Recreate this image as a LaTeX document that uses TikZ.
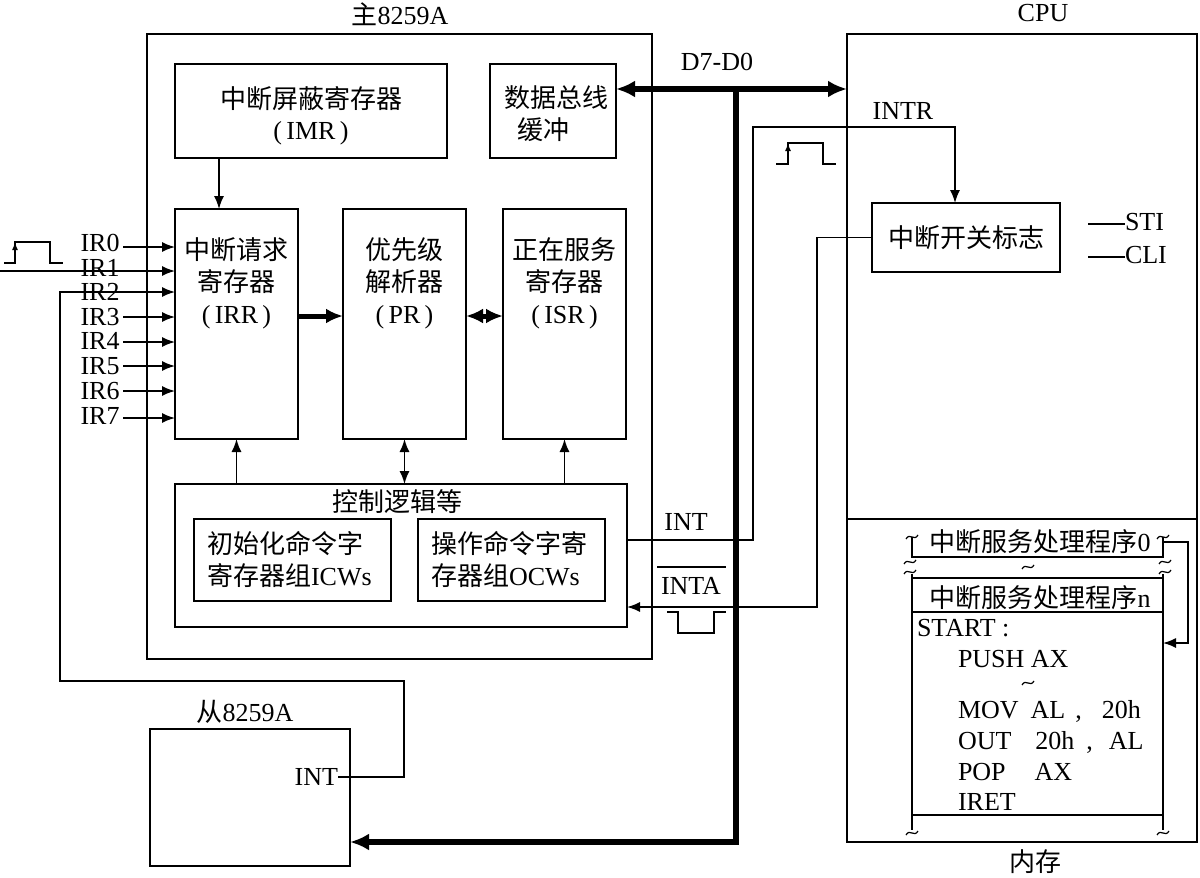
\documentclass[tikz,border=0pt]{standalone}
\usepackage{fontspec}
\setmainfont{Liberation Serif}
\newfontfamily\cjk{Noto Sans CJK SC}
\usetikzlibrary{arrows.meta}
\newcommand{\zh}[1]{{\cjk #1}}
\newcommand\wig[2]{\draw[line width=1.2pt] ({#1-6},{#2+2}) .. controls ({#1-2},{#2-5}) and ({#1+2},{#2+5}) .. ({#1+6},{#2-2});}
\begin{document}
\begin{tikzpicture}[x=1pt,y=-1pt,
  every node/.style={font=\fontsize{26}{30}\selectfont, inner sep=0pt, outer sep=0pt},
  blk/.style 2 args={draw, line width=1.6pt, minimum width=#1pt, minimum height=#2pt},
  ln/.style={line width=1.5pt},
  arr/.style={ln, -{Latex[length=13pt,width=10pt]}},
  darr/.style={ln, {Latex[length=13pt,width=10pt]}-{Latex[length=13pt,width=10pt]}},
  sarr/.style={ln, -{Latex[length=8pt,width=6pt]}},
  thk/.style={line width=5pt, -{Latex[length=17pt,width=15pt]}},
  dthk/.style={line width=5pt, {Latex[length=17pt,width=15pt]}-{Latex[length=17pt,width=15pt]}},
  bus/.style={line width=6pt, line join=miter},
  busarr/.style={bus, -{Latex[length=19pt,width=17pt]}},
  dbusarr/.style={bus, {Latex[length=19pt,width=17pt]}-{Latex[length=19pt,width=17pt]}}
]
\path[use as bounding box] (0,0) rectangle (1200,878);

% ---- boxes
\node[blk={505}{625}] (master) at (399.5,346.5) {};
\node[blk={350}{808}] (cpu) at (1022,438) {};
\node[blk={272}{94}] (imr) at (311,111) {};
\node[blk={126}{94}] (dbb) at (553,111) {};
\node[blk={123}{230}] (irr) at (236.5,324) {};
\node[blk={123}{230}] (pr) at (404.5,324) {};
\node[blk={123}{230}] (isr) at (564.5,324) {};
\node[blk={452}{143}] (ctl) at (401,555.5) {};
\node[blk={197}{82}] (icw) at (292.5,560) {};
\node[blk={187}{82}] (ocw) at (511.5,560) {};
\node[blk={188}{69}] (flag) at (966,237.5) {};
\node[blk={200}{137}] (slave) at (250,797.5) {};
\draw[line width=1.6pt] (cpu.west |- 0,519) -- (cpu.east |- 0,519);

% ---- titles
\node (tmaster) at (400,14) {\zh{主}8259A};
\node (tcpu) at (1043,13) {CPU};
\node (tslave) at (245,712) {\zh{从}8259A};
\node (tmem) at (1035,862) {\zh{内存}};

% ---- box texts
\node at (311,99) {\zh{中断屏蔽寄存器}};
\node at (311,133) {(\,IMR\,)};
\node[anchor=west] at (504,98) {\zh{数据总线}};
\node[anchor=west] at (517,130) {\zh{缓冲}};
\node at (236.5,250) {\zh{中断请求}};
\node at (236.5,282) {\zh{寄存器}};
\node at (236.5,317) {(\,IRR\,)};
\node at (404.5,250) {\zh{优先级}};
\node at (404.5,282) {\zh{解析器}};
\node at (404.5,317) {(\,PR\,)};
\node at (564.5,250) {\zh{正在服务}};
\node at (564.5,282) {\zh{寄存器}};
\node at (564.5,317) {(\,ISR\,)};
\node at (397,502) {\zh{控制逻辑等}};
\node[anchor=west] at (207,544) {\zh{初始化命令字}};
\node[anchor=west] at (207,576) {\zh{寄存器组}ICWs};
\node[anchor=west] at (431,544) {\zh{操作命令字寄}};
\node[anchor=west] at (431,576) {\zh{存器组}OCWs};
\node at (966,238) {\zh{中断开关标志}};
\node[anchor=east] (sint) at (338,777) {INT};

% ---- STI / CLI
\node[anchor=west] (sti) at (1125,222) {STI};
\node[anchor=west] (cli) at (1125,255) {CLI};
\draw[ln] (1088,224) -- (sti.west |- 0,224);
\draw[ln] (1088,257) -- (cli.west |- 0,257);

% ---- internal connectors
\coordinate (k1) at (219,0);
\draw[arr] (k1 |- imr.south) -- (k1 |- irr.north);
\coordinate (k2) at (0,316);
\draw[thk] (irr.east |- k2) -- (pr.west |- k2);
\draw[dthk] (pr.east |- k2) -- (isr.west |- k2);
\draw[arr] (ctl.north -| irr.south) -- (irr.south);
\draw[darr] (ctl.north -| pr.south) -- (pr.south);
\draw[arr] (ctl.north -| isr.south) -- (isr.south);

% ---- IR inputs
\foreach \i/\ly/\ay in {0/243/247,3/317/317,4/341/342,5/366/366,6/391/391,7/416/418}{
  \node (ir\i) at (100,\ly) {IR\i};
  \coordinate (ia\i) at (123,\ay);
  \draw[arr] (ia\i) -- (irr.west |- ia\i);
}
\node (ir1) at (100,268) {IR1};
\node (ir2) at (100,292) {IR2};
\coordinate (in1) at (0,271);
\draw[arr] (in1) -- (irr.west |- in1);
% pulse at IR0
\draw[ln] (4,263) -- (15,263) -- (15,242) -- (50,242) -- (50,263) -- (63,263);
\draw[sarr] (15,258) -- (15,242);

% ---- slave INT to IR2
\coordinate (c6) at (404,681);
\coordinate (c7) at (60,292);
\draw[arr] (sint.east) -| (c6) -- (c6 -| c7) -- (c7) -- (irr.west |- c7);

% ---- INT -> INTR
\coordinate (c1) at (753,540);
\coordinate (c2) at (753,127);
\coordinate (c3) at (955,127);
\draw[arr] (ctl.east |- c1) -- (c1) -- (c2) -- (c3) -- (c3 |- flag.north);
\node (tintr) at (903,111) {INTR};
\node (tint) at (686,522) {INT};
\draw[ln] (776,164) -- (788,164) -- (788,143) -- (823,143) -- (823,164) -- (836,164);
\draw[sarr] (788,158) -- (788,143);

% ---- INTA
\coordinate (c5) at (817,607);
\draw[arr] (flag.west) -| (c5) -- (ctl.east |- c5);
\node (tinta) at (691,586) {INTA};
\draw[ln] (657,567) -- (726,567);
\draw[ln] (667,612) -- (678,612) -- (678,633) -- (714,633) -- (714,612) -- (726,612);

% ---- data bus
\coordinate (b1) at (736,89);
\coordinate (b2) at (736,842);
\draw[dbusarr] (dbb.east |- b1) -- (cpu.west |- b1);
\draw[busarr] (b1) -- (b2) -- (slave.east |- b2);
\node (tbus) at (717,62) {D7-D0};

% ---- memory
\node (pg0) at (1040,542) {\zh{中断服务处理程序}0};
\draw[ln] (912,537) -- (912,557) -- (1163,557) -- (1163,537);
\wig{912}{537} \wig{1163}{537}
\wig{910}{562} \wig{1165}{562}
\wig{910}{572} \wig{1165}{572}
\wig{1028}{567}
\draw[ln] (912,574) -- (912,830);
\draw[ln] (1163,574) -- (1163,830);
\wig{912}{833} \wig{1163}{833}
\draw[ln] (912,578) -- (1163,578);
\draw[ln] (912,612) -- (1163,612);
\draw[ln] (912,815) -- (1163,815);
\node (pgn) at (1040,598) {\zh{中断服务处理程序}n};
\node[anchor=west] at (917,628) {START :};
\node[anchor=west] at (958,659) {PUSH AX};
\wig{1028}{683}
\node[anchor=west] at (958,711) {MOV\hspace*{12pt}AL\hspace*{10pt},\hspace*{20pt}20h};
\node[anchor=west] at (958,742) {OUT\hspace*{24pt}20h\hspace*{12pt},\hspace*{16pt}AL};
\node[anchor=west] at (958,772) {POP\hspace*{29pt}AX};
\node[anchor=west] at (958,802) {IRET};
\coordinate (m1) at (1163,542);
\coordinate (m2) at (1188,542);
\coordinate (m3) at (1163,643);
\draw[arr] (m1) -- (m2) |- (m3);
\end{tikzpicture}
\end{document}
